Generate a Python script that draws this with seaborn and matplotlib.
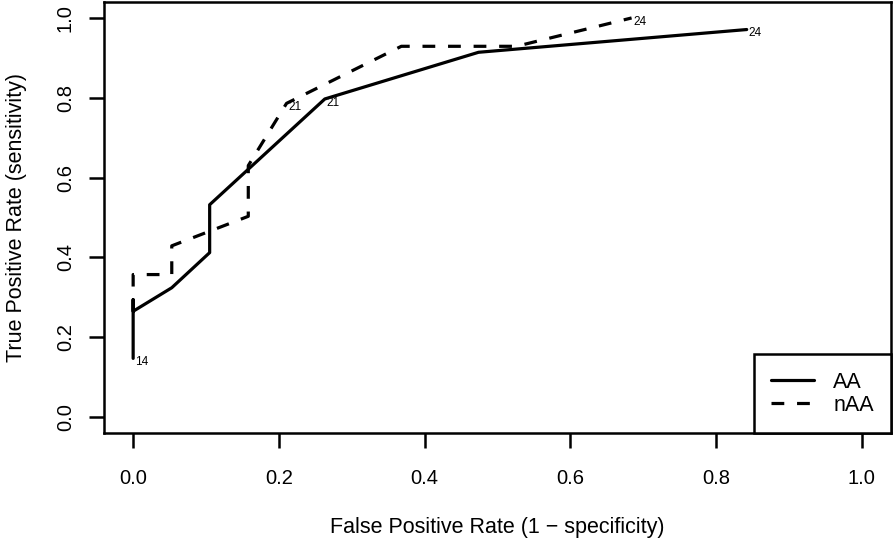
import matplotlib
matplotlib.use("Agg")
import matplotlib.pyplot as plt
import pandas as pd
import seaborn as sns

# ROC curve points (false positive rate, true positive rate)
aa_fpr = [0.0, 0.0, 0.0, 0.053, 0.105, 0.105, 0.263, 0.474, 0.842]
aa_tpr = [0.147, 0.294, 0.265, 0.324, 0.412, 0.532, 0.797, 0.914, 0.971]
naa_fpr = [0.0, 0.0, 0.053, 0.053, 0.158, 0.158, 0.2105, 0.368, 0.526, 0.684]
naa_tpr = [0.327, 0.357, 0.357, 0.429, 0.503, 0.630, 0.786, 0.929, 0.929, 1.0]

# cutoff labels printed along the curves
cut_fpr = [0.0, 0.263, 0.842, 0.2105, 0.684]
cut_tpr = [0.147, 0.797, 0.971, 0.786, 1.0]
cut_text = ["14", "21", "24", "21", "24"]

series = ["AA", "nAA"]
x_ticks = [0.0, 0.2, 0.4, 0.6, 0.8, 1.0]
y_ticks = [0.0, 0.2, 0.4, 0.6, 0.8, 1.0]

sns.set_theme(style="white")
plt.rcParams["font.family"] = ["Liberation Sans", "DejaVu Sans"]
plt.rcParams.update({"text.color": "black", "axes.labelcolor": "black",
                     "xtick.color": "black", "ytick.color": "black"})

LW = 2.3
FS_TICK = 14.5
FS_LAB = 15.5
df_aa = pd.DataFrame({"fpr": aa_fpr, "tpr": aa_tpr})
df_naa = pd.DataFrame({"fpr": naa_fpr, "tpr": naa_tpr})

fig = plt.figure(figsize=(8.93, 5.43), dpi=100)
ax = fig.add_axes([104 / 893, 110 / 543, 787 / 893, 431 / 543])

sns.lineplot(data=df_aa, x="fpr", y="tpr", sort=False, estimator=None,
             color="black", linewidth=LW, label=series[0], ax=ax)
sns.lineplot(data=df_naa, x="fpr", y="tpr", sort=False, estimator=None,
             color="black", linewidth=LW, linestyle=(0, (4, 4)), label=series[1], ax=ax)

for x, y, t in zip(cut_fpr, cut_tpr, cut_text):
    ax.annotate(t, (x, y), xytext=(1.5, -2.6), textcoords="offset points",
                ha="left", va="center", fontsize=8.5, color="black")

ax.set_xlim(-0.04, 1.04)
ax.set_ylim(-0.04, 1.04)
ax.set_xticks(x_ticks)
ax.set_yticks(y_ticks)
ax.set_xticklabels([f"{v:.1f}" for v in x_ticks], fontsize=FS_TICK)
ax.set_yticklabels([f"{v:.1f}" for v in y_ticks], fontsize=FS_TICK, rotation=90, va="center")
ax.tick_params(axis="both", direction="out", length=11, width=1.8, color="black",
               labelcolor="black", bottom=True, left=True, top=False, right=False)
ax.tick_params(axis="x", pad=15)
ax.tick_params(axis="y", pad=10)
for s in ax.spines.values():
    s.set_visible(True)
    s.set_color("black")
    s.set_linewidth(1.8)

ax.set_xlabel("False Positive Rate (1 \u2212 specificity)", fontsize=FS_LAB, labelpad=21)
ax.set_ylabel("True Positive Rate (sensitivity)", fontsize=FS_LAB, labelpad=21)

leg = ax.legend(loc="lower right", bbox_to_anchor=(1.0, 0.0), borderaxespad=0,
                fontsize=FS_LAB, frameon=True, fancybox=False, framealpha=1,
                edgecolor="black", handlelength=2.0, handletextpad=0.9,
                borderpad=0.8, labelspacing=0.1)
leg.get_frame().set_linewidth(1.8)

fig.savefig("out.png", dpi=100, facecolor="white")
